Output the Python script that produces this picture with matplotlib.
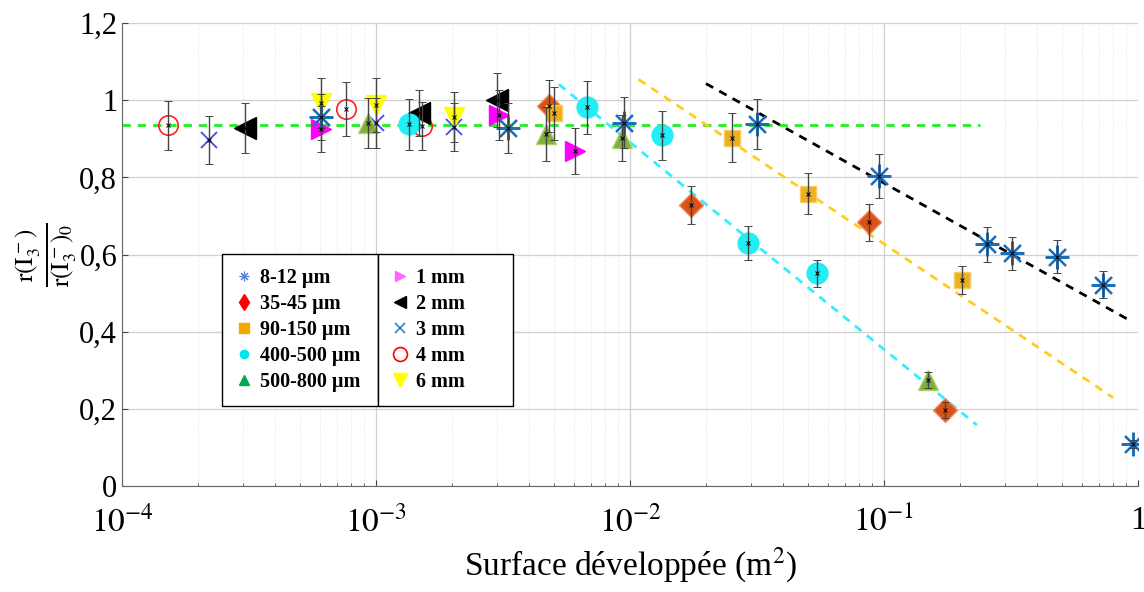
import numpy as np
import matplotlib
matplotlib.use("Agg")
import matplotlib.pyplot as plt
from matplotlib.lines import Line2D
from matplotlib.ticker import FixedLocator, LogLocator, NullFormatter

plt.rcParams['font.family'] = ['Liberation Serif', 'DejaVu Serif']
plt.rcParams['mathtext.fontset'] = 'stix'

# data (surface m2, normalised rate, error)
x_8_12 = [6.1e-4, 3.31e-3, 9.46e-3, 0.0316, 0.0955, 0.255, 0.319, 0.48, 0.727, 0.955]
y_8_12 = [0.957, 0.927, 0.941, 0.938, 0.804, 0.626, 0.603, 0.594, 0.521, 0.109]
e_8_12 = [0.06, 0.065, 0.066, 0.065, 0.057, 0.045, 0.042, 0.043, 0.035, 0.01]

x_35_45 = [4.8e-3, 0.0174, 0.0873, 0.174]
y_35_45 = [0.984, 0.728, 0.683, 0.197]
e_35_45 = [0.067, 0.05, 0.048, 0.02]

x_90_150 = [5.02e-3, 0.0252, 0.0502, 0.203]
y_90_150 = [0.966, 0.903, 0.758, 0.534]
e_90_150 = [0.068, 0.063, 0.053, 0.037]

x_400_500 = [1.35e-3, 6.78e-3, 0.0134, 0.0292, 0.0544]
y_400_500 = [0.937, 0.981, 0.909, 0.630, 0.552]
e_400_500 = [0.066, 0.068, 0.063, 0.045, 0.035]

x_500_800 = [9.3e-4, 4.67e-3, 9.3e-3, 0.149]
y_500_800 = [0.941, 0.912, 0.902, 0.275]
e_500_800 = [0.065, 0.07, 0.06, 0.02]

x_1mm = [6.1e-4, 3.05e-3, 6.07e-3]
y_1mm = [0.925, 0.961, 0.869]
e_1mm = [0.06, 0.065, 0.06]

x_2mm = [3.05e-4, 1.48e-3, 2.99e-3]
y_2mm = [0.927, 0.967, 1.0]
e_2mm = [0.065, 0.06, 0.07]

x_3mm = [2.2e-4, 1.0e-3, 2.03e-3]
y_3mm = [0.896, 0.941, 0.931]
e_3mm = [0.062, 0.065, 0.062]

x_4mm = [1.52e-4, 7.6e-4, 1.52e-3]
y_4mm = [0.935, 0.977, 0.933]
e_4mm = [0.064, 0.069, 0.062]

x_6mm = [6.1e-4, 1.0e-3, 2.03e-3]
y_6mm = [0.992, 0.987, 0.957]
e_6mm = [0.065, 0.07, 0.065]

# dashed trend lines (end points)
fit_flat_x, fit_flat_y = [1e-4, 0.239], [0.935, 0.935]
fit_cyan_x, fit_cyan_y = [5.25e-3, 0.232], [1.041, 0.158]
fit_orange_x, fit_orange_y = [0.0108, 0.798], [1.054, 0.229]
fit_black_x, fit_black_y = [0.0199, 0.906], [1.043, 0.433]

yticks = [0, 0.2, 0.4, 0.6, 0.8, 1.0, 1.2]
ytick_labels = ['0', '0,2', '0,4', '0,6', '0,8', '1', '1,2']
xticks = [1e-4, 1e-3, 1e-2, 1e-1, 1]
xtick_labels = [r'$10^{-4}$', r'$10^{-3}$', r'$10^{-2}$', r'$10^{-1}$', '1']

fig = plt.figure(figsize=(11.44, 5.92), dpi=100)
ax = fig.add_axes([122/1144, 106/592, 1016/1144, 463/592])

ax.set_xscale('log')
ax.set_xlim(1e-4, 1)
ax.set_ylim(0, 1.2)

ax.grid(True, which='major', color='#d0d0d0', lw=0.9)
ax.xaxis.set_minor_locator(LogLocator(base=10, subs=np.arange(2, 10)))
ax.xaxis.set_minor_formatter(NullFormatter())
ax.grid(True, which='minor', axis='x', color='#e0e0e0', lw=0.7, ls=':')

# trend lines
ax.plot(fit_flat_x, fit_flat_y, ls='--', color='#22ee22', lw=2, dashes=(3, 2.5), zorder=2)
ax.plot(fit_cyan_x, fit_cyan_y, ls='--', color='#33eeff', lw=2, dashes=(3, 2.5), zorder=2)
ax.plot(fit_orange_x, fit_orange_y, ls='--', color='#ffcc22', lw=2, dashes=(3, 2.5), zorder=2)
ax.plot(fit_black_x, fit_black_y, ls='--', color='black', lw=2, dashes=(3, 2.5), zorder=2)

series = [
    (x_4mm, y_4mm, e_4mm, dict(marker='o', ms=14, mfc='none', mec='#ff2020', mew=1.2)),
    (x_3mm, y_3mm, e_3mm, dict(marker='x', ms=12, mec='#4a4ae8', mew=1.3)),
    (x_2mm, y_2mm, e_2mm, dict(marker='<', ms=16, mfc='black', mec='black')),
    (x_1mm, y_1mm, e_1mm, dict(marker='>', ms=15, mfc='#ff00ff', mec='#ff00ff')),
    (x_6mm, y_6mm, e_6mm, dict(marker='v', ms=15, mfc='#ffff00', mec='#ffff00')),
    (x_500_800, y_500_800, e_500_800, dict(marker='^', ms=15, mfc='#77ac30', mec='#a9d36a', alpha=0.95)),
    (x_400_500, y_400_500, e_400_500, dict(marker='o', ms=15, mfc='#22eef6', mec='#22eef6')),
    (x_35_45, y_35_45, e_35_45, dict(marker='D', ms=12, mfc='#d95319', mec='#f08a5a')),
    (x_90_150, y_90_150, e_90_150, dict(marker='s', ms=12, mfc='#edb120', mec='#f5cc66')),
    (x_8_12, y_8_12, e_8_12, dict(marker=(8, 2, 0), ms=17, mec='#1f6fb8', mew=1.6)),
]

for xs, ys, es, style in series:
    ax.plot(xs, ys, ls='none', zorder=3, **style)
    ax.errorbar(xs, ys, yerr=es, fmt='x', ms=3.5, mec='black', mew=0.7,
                ecolor='#444444', elinewidth=1, capsize=3, capthick=1, zorder=4)

ax.set_yticks(yticks)
ax.set_yticklabels(ytick_labels)
ax.xaxis.set_major_locator(FixedLocator(xticks))
ax.set_xticklabels(xtick_labels)
ax.tick_params(axis='both', which='major', direction='in', labelsize=22, length=4, colors='#444444',
               labelcolor='black')
ax.tick_params(axis='x', which='major', labelsize=24, pad=14)
ax.tick_params(axis='x', which='minor', direction='in', length=2, colors='#444444')
for s in ['top', 'right']:
    ax.spines[s].set_visible(False)
for s in ['left', 'bottom']:
    ax.spines[s].set_color('#666666')

ax.set_xlabel(r'Surface développée (m$^2$)', fontsize=24, labelpad=6)
ax.set_ylabel(r'$\frac{\mathrm{r}(\mathrm{I}_3^-)}{\mathrm{r}(\mathrm{I}_3^-)_0}$', fontsize=26, labelpad=0)

# legends
h_left = [
    Line2D([], [], ls='none', marker=(8, 2, 0), ms=7, mec='#5a7fd6', mew=0.8),
    Line2D([], [], ls='none', marker='d', ms=8, mfc='red', mec='red'),
    Line2D([], [], ls='none', marker='s', ms=7, mfc='#f5a800', mec='#f5a800'),
    Line2D([], [], ls='none', marker='o', ms=6, mfc='#00e6f0', mec='#00e6f0'),
    Line2D([], [], ls='none', marker='^', ms=7, mfc='#00a850', mec='#00a850'),
]
l_left = ['8-12 µm', '35-45 µm', '90-150 µm', '400-500 µm', '500-800 µm']
h_right = [
    Line2D([], [], ls='none', marker='>', ms=7, mfc='#ff66ff', mec='#ff66ff'),
    Line2D([], [], ls='none', marker='<', ms=8, mfc='black', mec='black'),
    Line2D([], [], ls='none', marker='x', ms=7, mec='#2f7fd0', mew=1.2),
    Line2D([], [], ls='none', marker='o', ms=10, mfc='none', mec='red', mew=1.2),
    Line2D([], [], ls='none', marker='v', ms=10, mfc='#ffff00', mec='#ffff00'),
]
l_right = ['1 mm', '2 mm', '3 mm', '4 mm', '6 mm']

leg_kw = dict(frameon=True, fancybox=False, edgecolor='black', framealpha=1,
              prop={'weight': 'bold', 'size': 14.5}, handlelength=0.8, handletextpad=0.4,
              labelspacing=0.3, borderaxespad=0, borderpad=0.7, mode='expand')
leg1 = ax.legend(h_left, l_left, loc='lower left',
                 bbox_to_anchor=(0.098, 0.173, 0.154, 0.322), **leg_kw)
leg1.get_frame().set_linewidth(1.0)
ax.add_artist(leg1)
leg2 = ax.legend(h_right, l_right, loc='lower left',
                 bbox_to_anchor=(0.252, 0.173, 0.133, 0.322), **leg_kw)
leg2.get_frame().set_linewidth(1.0)
leg1.set_zorder(10)
leg2.set_zorder(10)

fig.savefig('out.png', dpi=100)
